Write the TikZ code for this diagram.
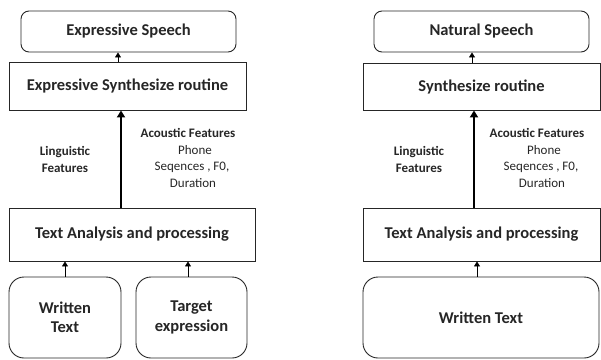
\documentclass[tikz,border=0pt]{standalone}
\usepackage{fontspec}
\setmainfont{Carlito}
\usetikzlibrary{arrows.meta}
\begin{document}
\begin{tikzpicture}[x=1pt,y=-1pt,
  box/.style={draw=black!85,line width=0.9pt,inner sep=0pt,align=center,
    font=\bfseries\fontsize{16.5}{19.5}\selectfont,text=black!85},
  roundbox/.style={box,rounded corners=8pt},
  softbox/.style={box,rounded corners=15pt},
  lbl/.style={align=center,inner sep=0pt,text=black!85,
    font=\fontsize{13}{16.5}\selectfont},
  thin/.style={draw=black,line width=0.9pt,-{Triangle[length=5pt,width=6pt]}},
  thick/.style={draw=black,line width=2.8pt,-{Triangle[length=7pt,width=8pt]}}]
\useasboundingbox (0,0) rectangle (601,359);

% left pipeline: expressive synthesis
\node[roundbox,minimum width=215pt,minimum height=41pt] (speechL) at (128.5,31.5) {Expressive Speech};
\node[box,minimum width=237pt,minimum height=48pt] (synthL) at (127.5,86) {Expressive Synthesize routine};
\node[box,minimum width=246pt,minimum height=53pt] (taL) at (132,234.5) {Text Analysis and processing};
\node[softbox,minimum width=112pt,minimum height=81pt] (wtL) at (65,317.5) {Written\\Text};
\node[softbox,minimum width=111pt,minimum height=81pt] (teL) at (191.5,317.5) {Target\\expression};

\node[lbl] (lingL) at (65,159.5) {\bfseries Linguistic\\\bfseries Features};
\node[lbl] (acoL) at (188,158) {\bfseries Acoustic Features\\\hspace*{14pt}Phone\\\hspace*{8pt}Seqences , F0,\\\hspace*{10pt}Duration};

\draw[thin] (synthL.north -| 118,0) -- (speechL.south -| 118,0);
\draw[thick] (taL.north -| 121,0) -- (synthL.south -| 121,0);
\draw[thin] (wtL.north) -- (taL.south -| wtL.north);
\draw[thin] (teL.north -| 188,0) -- (taL.south -| 188,0);

% right pipeline: neutral synthesis
\node[roundbox,minimum width=215pt,minimum height=41pt] (speechR) at (481.5,31.5) {Natural Speech};
\node[box,minimum width=237pt,minimum height=47pt] (synthR) at (481.5,86.5) {Synthesize routine};
\node[box,minimum width=237pt,minimum height=53pt] (taR) at (481.5,234.5) {Text Analysis and processing};
\node[softbox,minimum width=236pt,minimum height=81pt] (wtR) at (481,317.5) {Written Text};

\node[lbl] (lingR) at (419,159.5) {\bfseries Linguistic\\\bfseries Features};
\node[lbl] (acoR) at (537,158) {\bfseries Acoustic Features\\\hspace*{14pt}Phone\\\hspace*{8pt}Seqences , F0,\\\hspace*{10pt}Duration};

\draw[thin] (synthR.north -| 472,0) -- (speechR.south -| 472,0);
\draw[thick] (taR.north -| 474,0) -- (synthR.south -| 474,0);
\draw[thin] (wtR.north -| 477,0) -- (taR.south -| 477,0);
\end{tikzpicture}
\end{document}
